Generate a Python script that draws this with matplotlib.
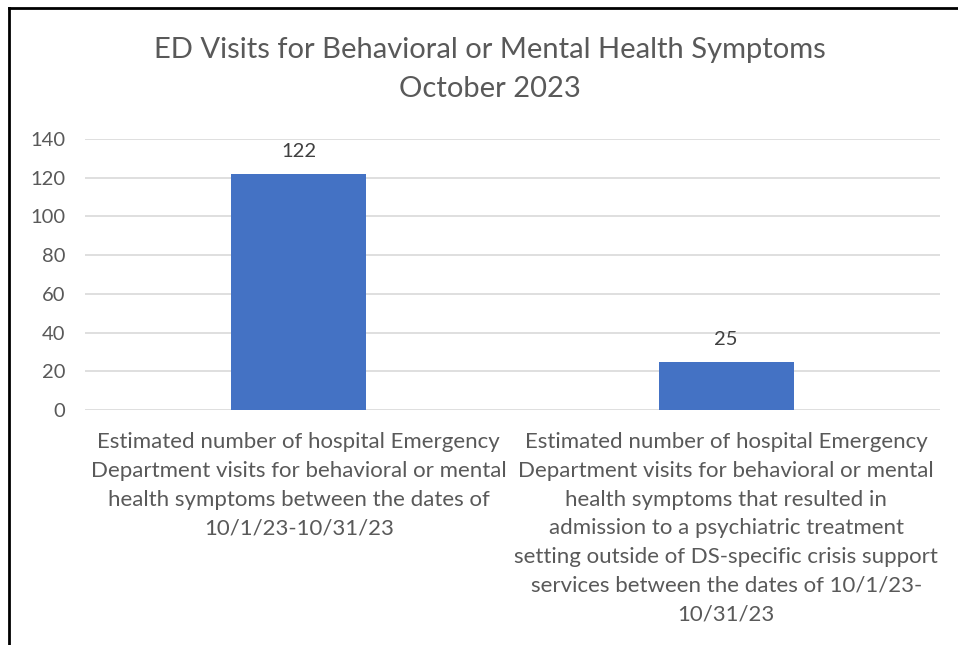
import matplotlib.pyplot as plt

# Data

categories = [
    "Estimated number of hospital Emergency\nDepartment visits for behavioral or mental\nhealth symptoms between the dates of\n10/1/23-10/31/23",
    "Estimated number of hospital Emergency\nDepartment visits for behavioral or mental\nhealth symptoms that resulted in\nadmission to a psychiatric treatment\nsetting outside of DS-specific crisis support\nservices between the dates of 10/1/23-\n10/31/23",
]
visits = [122, 25]
y_ticks = [0, 20, 40, 60, 80, 100, 120, 140]

title = "ED Visits for Behavioral or Mental Health Symptoms\nOctober 2023"

# Plotting

plt.rcParams['font.family'] = ['Lato', 'DejaVu Sans']

fig = plt.figure(figsize=(9.58, 6.45), dpi=100)
ax = fig.add_axes([0.0887, 0.3643, 0.8925, 0.4202])

x = list(range(len(visits)))
bars = ax.bar(x, visits, width=0.316, color='#4472C4', zorder=3)

for xi, v in zip(x, visits):
    ax.annotate(str(v), (xi, v), xytext=(0, 10), textcoords='offset points',
                ha='center', va='bottom', fontsize=14.5, color='#404040')

ax.set_xlim(-0.5, len(visits) - 0.5)
ax.set_ylim(0, 140)
ax.set_yticks(y_ticks)
ax.set_xticks(x)
ax.set_xticklabels(categories, fontsize=16, color='#595959', linespacing=1.54)
ax.tick_params(axis='y', labelsize=14.5, labelcolor='#595959', length=0, pad=14)
ax.tick_params(axis='x', length=0, pad=16)

ax.grid(axis='y', color='#D9D9D9', linewidth=1.2, zorder=0)
for spine in ax.spines.values():
    spine.set_visible(False)

fig.text(0.5115, 0.893, title, ha='center', va='center', fontsize=21,
         color='#595959', linespacing=1.62)

# Frame (cropped on right and bottom)
fig.add_artist(plt.Line2D([9 / 958, 1.0], [1 - 8 / 645, 1 - 8 / 645],
                          color='black', linewidth=2))
fig.add_artist(plt.Line2D([9 / 958, 9 / 958], [0.0, 1 - 8 / 645],
                          color='black', linewidth=2))

fig.savefig('out.png', dpi=100)
